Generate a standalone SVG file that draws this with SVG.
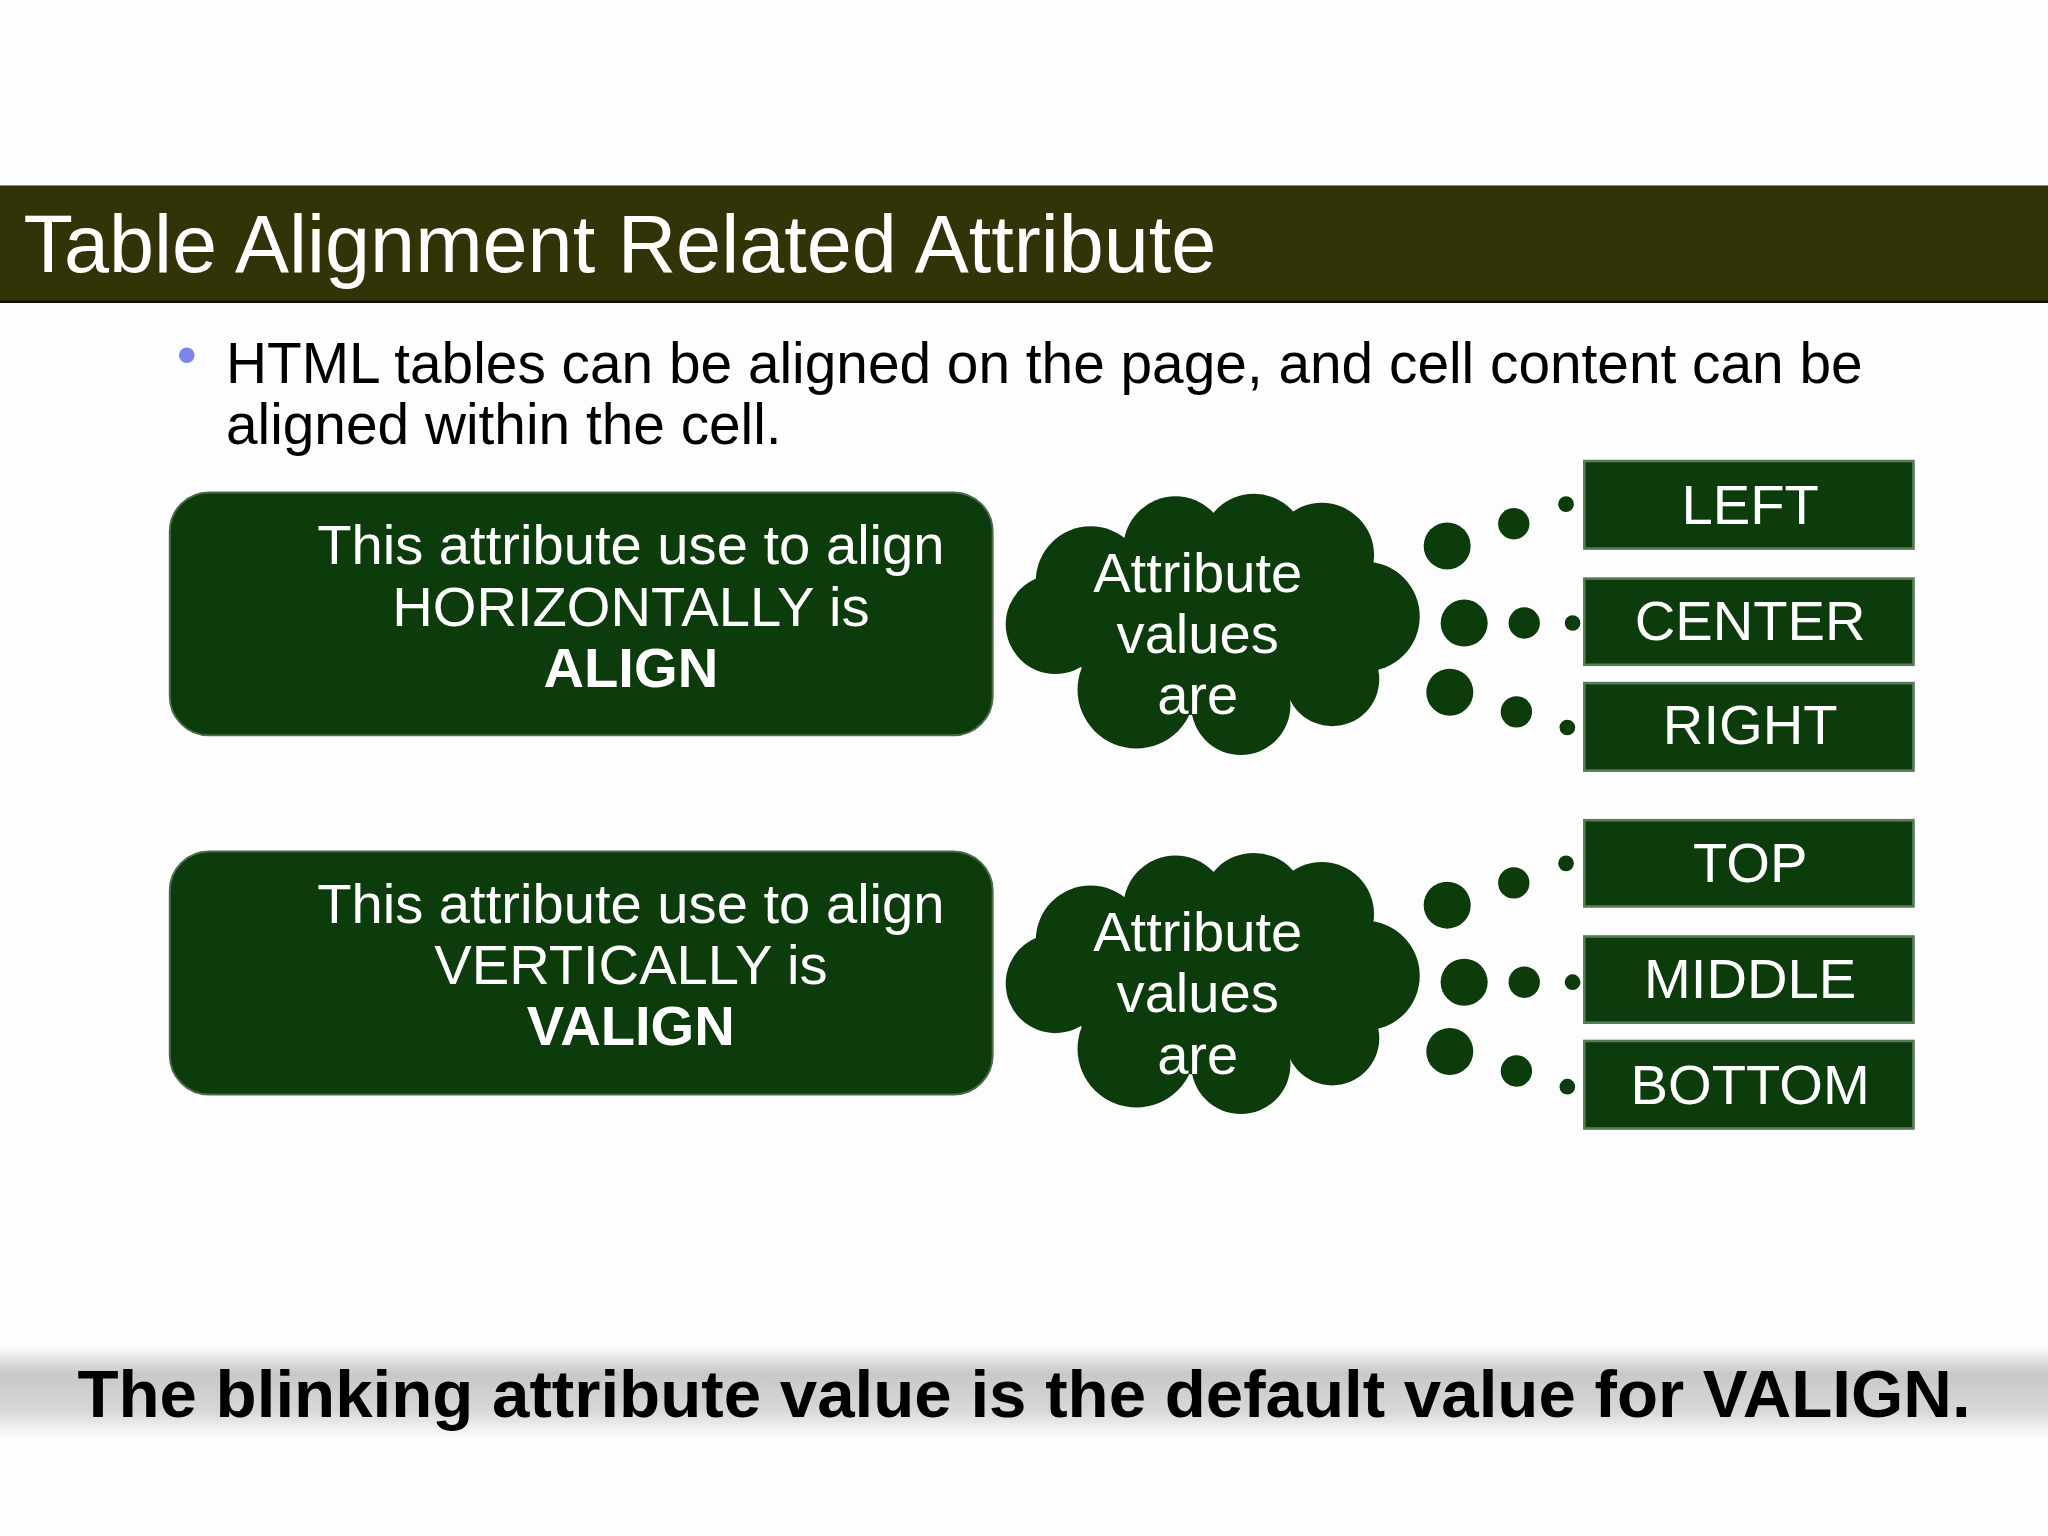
<svg xmlns="http://www.w3.org/2000/svg" width="2048" height="1536" viewBox="0 0 2048 1536">
<defs>
<style>
.t{font-family:"Liberation Sans",Arial,sans-serif;fill:#fff;text-anchor:middle;font-size:43px}
.box{fill:#0c3b0c;stroke:#4a6a4a;stroke-width:1.5}
.vb{fill:#0c3b0c;stroke:#5a7a5a;stroke-width:2}
.dot{fill:#0c3b0c}
</style>
<linearGradient id="band" x1="0" y1="0" x2="0" y2="1">
<stop offset="0" stop-color="#fff"/><stop offset="0.3" stop-color="#c8c8c8"/><stop offset="0.7" stop-color="#d8d8d8"/><stop offset="1" stop-color="#fff"/>
</linearGradient>
<g id="cloud">
<circle cx="835" cy="445" r="42"/><circle cx="900" cy="420" r="40"/><circle cx="960" cy="418" r="40"/><circle cx="1012" cy="425" r="40"/><circle cx="1045" cy="472" r="42"/><circle cx="1020" cy="520" r="36"/><circle cx="950" cy="540" r="38"/><circle cx="870" cy="528" r="45"/><circle cx="808" cy="478" r="38"/><ellipse cx="925" cy="478" rx="110" ry="70"/>
</g>
<g id="dots">
<circle cx="1108" cy="418" r="18"/><circle cx="1159" cy="401" r="12"/><circle cx="1199" cy="386" r="6"/>
<circle cx="1121" cy="477" r="18"/><circle cx="1167" cy="477" r="12"/><circle cx="1204" cy="477" r="6"/>
<circle cx="1110" cy="530" r="18"/><circle cx="1161" cy="545" r="12"/><circle cx="1200" cy="557" r="6"/>
</g>
</defs>
<rect width="2048" height="1536" fill="#fdfdfd"/>
<g transform="scale(1.30612)">
<g id="title"><rect x="0" y="142" width="1568" height="89" fill="#333308"/><line x1="0" y1="231" x2="1568" y2="231" stroke="#111" stroke-width="2"/>
<text x="18" y="208" style="font-family:'Liberation Sans',Arial,sans-serif;font-size:62px;fill:#fff">Table Alignment Related Attribute</text></g>
<g id="bullet"><circle cx="143" cy="272" r="6" fill="#7b86e8"/>
<text x="173" y="293" style="font-family:'Liberation Sans',Arial,sans-serif;font-size:43.5px;fill:#000">HTML tables can be aligned on the page, and cell content can be</text>
<text x="173" y="340" style="font-family:'Liberation Sans',Arial,sans-serif;font-size:43.5px;fill:#000">aligned within the cell.</text></g>
<g id="box1"><rect class="box" x="130" y="377" width="630" height="186" rx="30"/>
<text class="t" x="483" y="432">This attribute use to align</text><text class="t" x="483" y="479">HORIZONTALLY is</text><text class="t" x="483" y="526" font-weight="bold">ALIGN</text></g>
<g id="box2"><rect class="box" x="130" y="652" width="630" height="186" rx="30"/>
<text class="t" x="483" y="707">This attribute use to align</text><text class="t" x="483" y="753">VERTICALLY is</text><text class="t" x="483" y="800" font-weight="bold">VALIGN</text></g>
<g id="cloud1"><use href="#cloud" class="dot"/>
<text class="t" x="917" y="453">Attribute</text><text class="t" x="917" y="500">values</text><text class="t" x="917" y="547">are</text></g>
<g id="cloud2"><use href="#cloud" class="dot" transform="translate(0,275)"/>
<text class="t" x="917" y="728">Attribute</text><text class="t" x="917" y="775">values</text><text class="t" x="917" y="822">are</text></g>
<g id="connectors"><use href="#dots" class="dot"/><use href="#dots" class="dot" transform="translate(0,275)"/></g>
<g id="left"><rect class="vb" x="1213" y="353" width="252" height="67"/><text class="t" x="1340" y="401">LEFT</text></g>
<g id="center"><rect class="vb" x="1213" y="443" width="252" height="66"/><text class="t" x="1340" y="490">CENTER</text></g>
<g id="right"><rect class="vb" x="1213" y="523" width="252" height="67"/><text class="t" x="1340" y="570">RIGHT</text></g>
<g id="top"><rect class="vb" x="1213" y="628" width="252" height="66"/><text class="t" x="1340" y="675">TOP</text></g>
<g id="middle"><rect class="vb" x="1213" y="717" width="252" height="66"/><text class="t" x="1340" y="764">MIDDLE</text></g>
<g id="bottom"><rect class="vb" x="1213" y="797" width="252" height="67"/><text class="t" x="1340" y="845">BOTTOM</text></g>
<g id="note"><rect x="0" y="1030" width="1568" height="72" fill="url(#band)"/>
<text x="784" y="1085" style="font-family:'Liberation Sans',Arial,sans-serif;font-size:51.5px;font-weight:bold;fill:#000;text-anchor:middle">The blinking attribute value is the default value for VALIGN.</text></g>
</g>
</svg>
